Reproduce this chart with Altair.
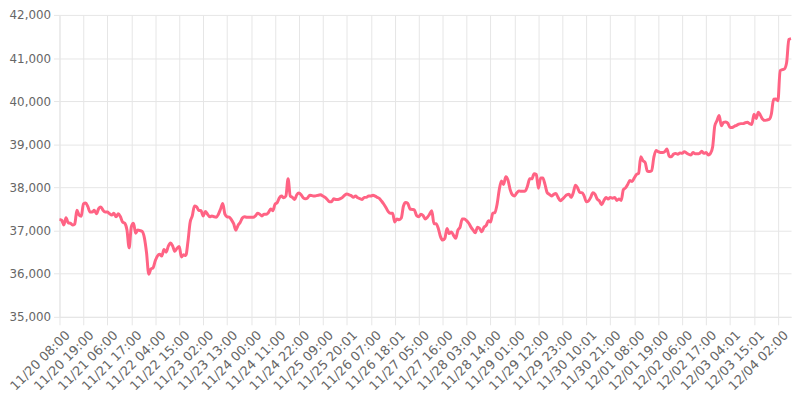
import altair as alt
import pandas as pd

tick_labels = [
    "11/20 08:00", "11/20 19:00", "11/21 06:00", "11/21 17:00", "11/22 04:00",
    "11/22 15:00", "11/23 02:00", "11/23 13:00", "11/24 00:00", "11/24 11:00",
    "11/24 22:00", "11/25 09:00", "11/25 20:01", "11/26 07:00", "11/26 18:01",
    "11/27 05:00", "11/27 16:00", "11/28 03:00", "11/28 14:00", "11/29 01:00",
    "11/29 12:00", "11/29 23:00", "11/30 10:01", "11/30 21:00", "12/01 08:00",
    "12/01 19:00", "12/02 06:00", "12/02 17:00", "12/03 04:01", "12/03 15:01",
    "12/04 02:00",
]

vals_1 = [
    37260, 37240, 37130, 37300, 37180, 37170, 37130, 37150, 37470, 37360,
    37330, 37620, 37640, 37560, 37430, 37430, 37470, 37390, 37510, 37550,
    37470, 37430, 37430, 37390, 37360, 37400, 37320, 37390, 37320, 37200,
    37170, 37015, 36600, 37090, 37170, 36940, 37015, 37000, 36980, 36830,
    36480, 35990, 36110, 36140, 36300, 36410, 36450, 36410, 36560, 36500,
    36640, 36710, 36640, 36520, 36590, 36630, 36390, 36440, 36420, 36740,
]
vals_2 = [
    37190, 37340, 37570, 37550, 37470, 37460, 37340, 37440, 37380, 37320,
    37340, 37320, 37310, 37380, 37500, 37630, 37380, 37320, 37310, 37250,
    37160, 37010, 37120, 37190, 37290, 37320, 37310, 37310, 37310, 37310,
    37340, 37400, 37380, 37340, 37380, 37380, 37420, 37500, 37460, 37610,
    37650, 37760, 37800, 37760, 37800, 38200, 37800, 37770, 37720, 37830,
    37870, 37830, 37760, 37740, 37760, 37820, 37810, 37800, 37810, 37820,
]
vals_3 = [
    37830, 37800, 37770, 37720, 37670, 37670, 37740, 37720, 37720, 37740,
    37770, 37820, 37850, 37830, 37810, 37770, 37800, 37760, 37740, 37720,
    37770, 37770, 37800, 37800, 37820, 37800, 37770, 37740, 37680, 37610,
    37530, 37440, 37400, 37400, 37200, 37270, 37250, 37290, 37570, 37650,
    37630, 37500, 37490, 37480, 37350, 37320, 37380, 37350, 37270, 37310,
    37380, 37460, 37160, 37160, 37050, 36860, 36780, 36820, 37050, 36930,
]
vals_4 = [
    36970, 36890, 36820, 37010, 37080, 37270, 37270, 37230, 37170, 37080,
    37010, 36950, 37080, 37050, 36970, 37080, 37120, 37230, 37200, 37400,
    37420, 37610, 37950, 38150, 38070, 38250, 38170, 37950, 37830, 37800,
    37870, 37920, 37910, 37910, 37920, 38040, 38200, 38200, 38320, 38300,
    37980, 38220, 38220, 38070, 37880, 37840, 37800, 37840, 37860, 37770,
    37690, 37730, 37780, 37830, 37840, 37770, 37880, 38050, 37990, 37880,
]
vals_5 = [
    37880, 37800, 37670, 37690, 37770, 37880, 37840, 37730, 37690, 37600,
    37690, 37770, 37730, 37770, 37750, 37770, 37700, 37730, 37700, 37950,
    37990, 38070, 38160, 38140, 38220, 38300, 38330, 38710, 38620, 38580,
    38380, 38370, 38390, 38700, 38860, 38830, 38810, 38810, 38830, 38890,
    38730, 38710, 38770, 38790, 38770, 38800, 38790, 38830, 38800, 38770,
    38750, 38810, 38780, 38780, 38790, 38840, 38790, 38810, 38750, 38790,
]
vals_6 = [
    38940, 39430, 39550, 39670, 39430, 39510, 39520, 39490, 39390, 39390,
    39420, 39440, 39470, 39480, 39480, 39500, 39510, 39480, 39460, 39700,
    39600, 39745, 39670, 39580, 39555, 39565, 39580, 39710, 40045, 40050,
    40010, 40710, 40730, 40750, 40900, 41430, 41450,
]

values = vals_1 + vals_2 + vals_3 + vals_4 + vals_5 + vals_6
df = pd.DataFrame({"idx": list(range(len(values))), "price": values})

label_expr = "[" + ",".join("'" + s + "'" for s in tick_labels) + "][round(datum.value / 11)]"

chart = (
    alt.Chart(df)
    .mark_line(interpolate="monotone", color="#ff6384", strokeWidth=3)
    .encode(
        x=alt.X(
            "idx:Q",
            scale=alt.Scale(domain=[0, len(values) - 1], nice=False, zero=False),
            axis=alt.Axis(
                values=list(range(0, 11 * len(tick_labels), 11)),
                labelExpr=label_expr,
                labelAngle=-45,
                labelAlign="right",
                labelBaseline="middle",
                labelFontSize=13,
                tickSize=8,
                labelPadding=8,
                labelOffset=8,
                labelOverlap=False,
                title=None,
            ),
        ),
        y=alt.Y(
            "price:Q",
            scale=alt.Scale(domain=[35000, 42000], nice=False, zero=False),
            axis=alt.Axis(
                values=list(range(35000, 42001, 1000)),
                format=",d",
                labelFontSize=12,
                tickSize=6,
                labelPadding=3,
                title=None,
            ),
        ),
    )
    .properties(
        width=739,
        height=305,
        autosize=alt.AutoSizeParams(type="none"),
        padding={"left": 52, "top": 5, "right": 1, "bottom": 82},
    )
    .configure_axis(
        gridColor="#e6e6e6",
        domainColor="#e6e6e6",
        tickColor="#e6e6e6",
        labelColor="#666666",
        labelFont="DejaVu Sans",
    )
    .configure_view(strokeWidth=0)
)

chart.save("out.html", embed_options={"renderer": "svg", "actions": False})
